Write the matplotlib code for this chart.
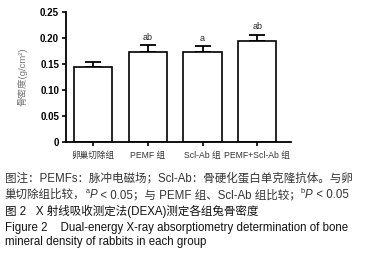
import numpy as np
import matplotlib.pyplot as plt

# 数据
groups = ['卵巢切除组', 'PEMF 组', 'Scl-Ab 组', 'PEMF+Scl-Ab 组']
bmd = [0.144, 0.173, 0.174, 0.194]
sd = [0.010, 0.013, 0.010, 0.013]
marks = ['', 'ab', 'a', 'ab']
yticks = [0, 0.05, 0.10, 0.15, 0.20, 0.25]
ytick_labels = ['0', '0.05', '0.10', '0.15', '0.20', '0.25']

FAM = ['Liberation Sans', 'Noto Sans CJK SC', 'DejaVu Sans']
plt.rcParams['font.family'] = FAM

W, H = 366, 262
fig = plt.figure(figsize=(W / 100, H / 100), dpi=100)
ax = fig.add_axes([66 / W, 1 - 141.5 / H, (291 - 66) / W, (141.5 - 12.3) / H])

x = np.arange(len(groups))
ax.bar(x, bmd, width=0.7, color='white', edgecolor='black', linewidth=1.2, zorder=2)
ax.errorbar(x, bmd, yerr=[np.zeros(len(sd)), sd], fmt='none', ecolor='black',
            elinewidth=1.3, capsize=5.5, capthick=1.3, zorder=1)
for xi, v, e, m in zip(x, bmd, sd, marks):
    if m:
        ax.text(xi, v + e + 0.007, m, ha='center', va='bottom', fontsize=6.5, color='#222222')

ax.set_xlim(-0.5, 3.62)
ax.set_ylim(0, 0.25)
ax.set_yticks(yticks)
ax.set_yticklabels(ytick_labels, fontsize=7, fontweight='bold')
ax.set_xticks(x)
ax.set_xticklabels(groups, fontsize=6.2, color='#333333')
for s in ['top', 'right']:
    ax.spines[s].set_visible(False)
for s in ['left', 'bottom']:
    ax.spines[s].set_linewidth(1.3)
ax.tick_params(axis='both', width=1.2, length=3, pad=2)
ax.tick_params(axis='x', pad=4)
ax.set_ylabel('骨密度(g/cm²)', fontsize=6.8, color='#777777', labelpad=9)

# 图注
FS = 8.3
fig.text(5 / W, 1 - 181 / H, '图注：PEMFs：脉冲电磁场；Scl-Ab：骨硬化蛋白单克隆抗体。与卵',
         color='#333333', fontsize=FS, family=FAM, va='baseline')

# 第二行：带上标和斜体，逐段拼接
parts = [('巢切除组比较，', 'normal', 0), ('a', 'normal', 3.5), ('P', 'italic', 0),
         (' < 0.05；与 PEMF 组、Scl-Ab 组比较；', 'normal', 0), ('b', 'normal', 3.5),
         ('P', 'italic', 0), (' < 0.05', 'normal', 0)]
renderer = fig.canvas.get_renderer()
xpos = 5
for txt, style, up in parts:
    fs = 5.3 if up else FS
    t = fig.text(xpos / W, 1 - (198 - up * 1.39) / H, txt, color='#333333', fontsize=fs,
                 family=FAM, style=style, va='baseline')
    bb = t.get_window_extent(renderer)
    xpos = bb.x1

fig.text(5 / W, 1 - 215.5 / H, '图 2   X 射线吸收测定法(DEXA)测定各组兔骨密度',
         color='#111111', fontsize=FS, family=FAM, va='baseline')
fig.text(5 / W, 1 - 231 / H, 'Figure 2    Dual-energy X-ray absorptiometry determination of bone',
         color='#111111', fontsize=FS, family=FAM, va='baseline')
fig.text(5 / W, 1 - 245 / H, 'mineral density of rabbits in each group',
         color='#111111', fontsize=FS, family=FAM, va='baseline')

fig.savefig('out.png', dpi=100)
